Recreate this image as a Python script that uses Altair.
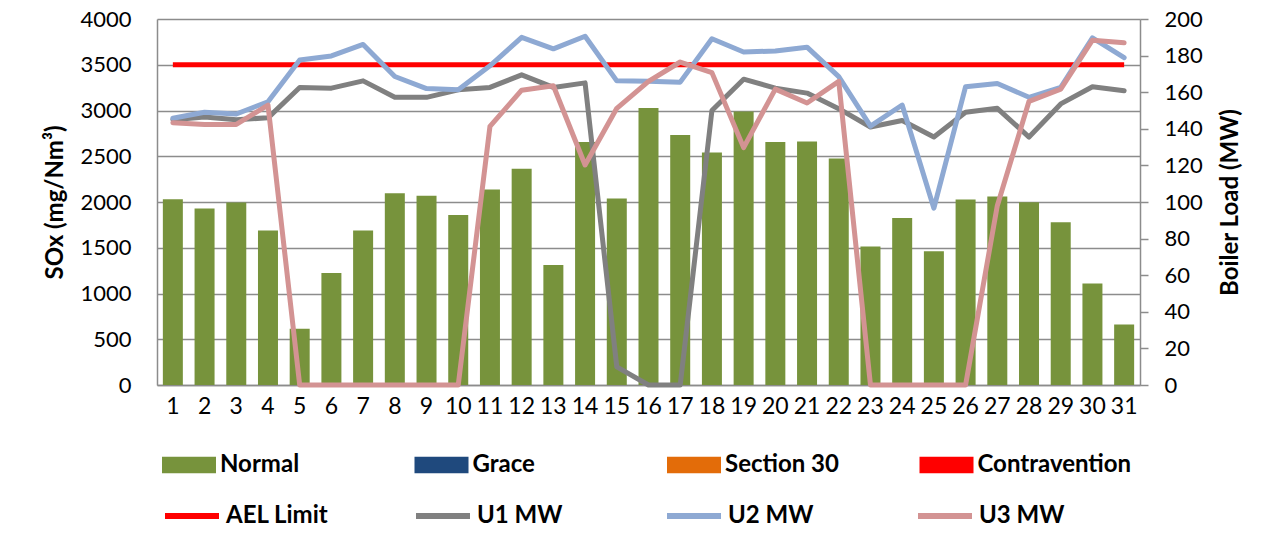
import altair as alt
import pandas as pd

days = list(range(1, 32))
normal_sox = [2030, 1930, 1995, 1688, 614, 1225, 1688, 2096, 2067, 1857,
              2136, 2363, 1312, 2656, 2038, 3028, 2732, 2540, 2990, 2656,
              2660, 2475, 1514, 1825, 1463, 2027, 2060, 1998, 1778, 1109, 661]
u1_mw = [145, 146.5, 145, 146, 162.6, 162.2, 166.2, 157.2, 157.2, 161.3,
         162.6, 169.5, 162.6, 165.1, 9.9, 0, 0, 150, 167.1, 162.2,
         159.5, 151, 141, 144.5, 135.5, 149, 151.2, 135.5, 153.6, 163, 160.8]
u2_mw = [145.8, 149, 148.1, 154.8, 177.6, 179.8, 186.1, 168.6, 162, 161.3,
         174.4, 190, 183.7, 190.6, 166.2, 166, 165.5, 189.2, 182, 182.5,
         184.6, 168.5, 141.5, 153, 96.6, 163, 164.8, 157.2, 162.6, 189.7, 178.9]
u3_mw = [143.3, 142.4, 142.4, 153, 0, 0, 0, 0, 0, 0,
         141.3, 161.1, 163.5, 120.2, 151.2, 165.9, 176.5, 170.7, 129.7, 161.7,
         154.1, 165.9, 0, 0, 0, 0, 98, 155, 161.7, 188.4, 187]
ael_limit = 3500

status_names = ["Normal", "Grace", "Section 30", "Contravention"]
status_colors = ["#77933C", "#1F497D", "#E36C09", "#FF0000"]
line_names = ["AEL Limit", "U1 MW", "U2 MW", "U3 MW"]
line_colors = ["#FF0000", "#808080", "#8EA9D3", "#D39393"]

df = pd.DataFrame({
    "day": days,
    "sox": normal_sox,
    "status": ["Normal"] * len(days),
    "ael": [ael_limit] * len(days),
    "U1 MW": u1_mw,
    "U2 MW": u2_mw,
    "U3 MW": u3_mw,
})

FONT = "Lato"
GRID = "#8C8C8C"

x_enc = alt.X(
    "day:O",
    scale=alt.Scale(paddingInner=0.36, paddingOuter=0.18),
    axis=alt.Axis(title=None, labelAngle=0, ticks=False, labelPadding=10,
                  labelFontSize=23, domainColor=GRID, domainWidth=1.5,
                  grid=False),
)

fill_legend = alt.Legend(
    title=None, orient="none", legendX=5, legendY=419, direction="horizontal",
    columns=4, gridAlign="all", columnPadding=40.5,
    symbolType="M-1,-0.31H1V0.31H-1Z", symbolSize=2916, symbolStrokeWidth=0,
    labelFontSize=24, labelFontWeight="bold", labelOffset=4, labelFont=FONT,
    labelColor="black", labelLimit=300,
)

stroke_legend = alt.Legend(
    title=None, orient="none", legendX=5, legendY=467, direction="horizontal",
    columns=4, gridAlign="all", columnPadding=75,
    symbolType="stroke", symbolSize=2916, symbolStrokeWidth=6,
    labelFontSize=24, labelFontWeight="bold", labelOffset=4, labelFont=FONT,
    labelColor="black", labelLimit=300,
)

bars = alt.Chart(df).mark_bar(size=20).encode(
    x=x_enc,
    y=alt.Y("sox:Q",
            scale=alt.Scale(domain=[0, 4000], nice=False),
            axis=alt.Axis(title="SOx (mg/Nm³)", values=list(range(0, 4001, 500)),
                          format="d", orient="left", ticks=False, labelPadding=26,
                          labelFontSize=22, titleFontSize=24, titleFontWeight="bold",
                          titlePadding=12, grid=True, gridColor=GRID, gridWidth=1.5,
                          domainColor=GRID, domainWidth=1.5)),
    fill=alt.Fill("status:N",
                  scale=alt.Scale(domain=status_names, range=status_colors),
                  legend=fill_legend),
)

ael = alt.Chart(df).mark_line(strokeWidth=5).encode(
    x=x_enc,
    y=alt.Y("ael:Q", scale=alt.Scale(domain=[0, 4000], nice=False), axis=None),
    stroke=alt.Stroke("lname:N",
                      scale=alt.Scale(domain=line_names, range=line_colors),
                      legend=stroke_legend),
).transform_calculate(lname="'AEL Limit'")

mw_lines = alt.Chart(df).transform_fold(
    ["U1 MW", "U2 MW", "U3 MW"], as_=["lname", "mw"]
).mark_line(strokeWidth=5, strokeCap="round", strokeJoin="round").encode(
    x=x_enc,
    y=alt.Y("mw:Q",
            scale=alt.Scale(domain=[0, 200], nice=False),
            axis=alt.Axis(title="Boiler Load (MW)", values=list(range(0, 201, 20)),
                          orient="right", ticks=True, tickSize=8, tickColor=GRID,
                          tickWidth=1.5, labelPadding=16, labelFontSize=22,
                          titleFontSize=24, titleFontWeight="bold", titleAngle=270,
                          titlePadding=40, grid=False, domainColor=GRID,
                          domainWidth=1.5)),
    stroke=alt.Stroke("lname:N",
                      scale=alt.Scale(domain=line_names, range=line_colors),
                      legend=stroke_legend),
)

chart = alt.layer(bars, ael, mw_lines).resolve_scale(
    y="independent"
).properties(
    width=983, height=366,
    padding={"left": 149, "top": 11, "right": 120, "bottom": 149},
    autosize=alt.AutoSizeParams(type="none"),
).configure(
    font=FONT, background="white"
).configure_axis(
    labelFont=FONT, titleFont=FONT, labelColor="black", titleColor="black"
).configure_view(strokeWidth=0)

chart.save("out.html", embed_options={"renderer": "svg", "actions": False})
